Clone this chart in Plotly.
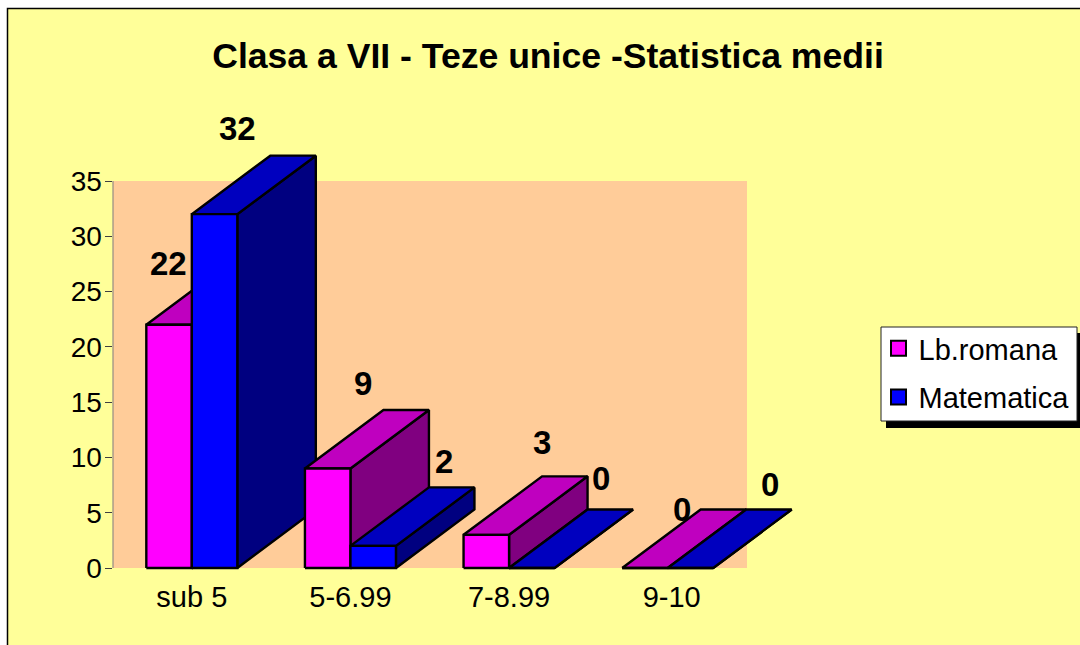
import plotly.graph_objects as go

TITLE = "Clasa a VII - Teze unice -Statistica medii"
categories = ["sub 5", "5-6.99", "7-8.99", "9-10"]
romana = [22, 9, 3, 0]
matematica = [32, 2, 0, 0]
y_ticks = [0, 5, 10, 15, 20, 25, 30, 35]

W, H = 1080, 645
FONT = "Liberation Sans, Arial, sans-serif"
PX_L, PX_R, PX_T, PX_B = 112.5, 747.0, 181.0, 568.0
PX_RIGHT_EXT, PX_TOP_EXT, PX_BOTTOM_EXT = 830.0, 100.0, 575.0
ux = (PX_R - PX_L) / 4
uy = (PX_B - PX_T) / 35
BAR = 45.5 / ux
DX = 78.5 / ux
DY = 58.5 / uy
X_MAX = -0.5 + (PX_RIGHT_EXT - PX_L) / ux
Y_MAX = (PX_B - PX_TOP_EXT) / uy
Y_MIN = (PX_B - PX_BOTTOM_EXT) / uy


def px(v):
    return v / W


def py(v):
    return 1 - v / H


def face(xs, ys, color):
    return go.Scatter(
        x=xs + xs[:1], y=ys + ys[:1], mode="lines", fill="toself", fillcolor=color,
        line=dict(color="black", width=2.4), showlegend=False, hoverinfo="skip",
    )


def box(left, v, front, top, side):
    r = left + BAR
    return [
        face([r, r + DX, r + DX, r], [0, DY, v + DY, v], side),
        face([left, left + DX, r + DX, r], [v, v + DY, v + DY, v], top),
        face([left, r, r, left], [0, 0, v, v], front),
    ]


fig = go.Figure()
for i in range(len(categories)):
    for t in box(i - BAR, romana[i], "#FF00FF", "#BF00BF", "#800080"):
        fig.add_trace(t)
    for t in box(i, matematica[i], "#0000FF", "#0000BF", "#000080"):
        fig.add_trace(t)

# legend entries
fig.add_trace(go.Scatter(x=[None], y=[None], mode="markers", name="Lb.romana", legendgroup="a",
                         marker=dict(symbol="square", size=15, color="#FF00FF", line=dict(color="black", width=2))))
fig.add_trace(go.Scatter(x=[None], y=[None], mode="markers", name="Matematica", legendgroup="b",
                         marker=dict(symbol="square", size=15, color="#0000FF", line=dict(color="black", width=2))))

# data labels: pixel nudges relative to bar centre / value
rom_shift = [(-1, 61), (35, 85), (56, 92), (37, 59)]
mat_shift = [(23, 86), (71, 84), (69, 90), (80, 84)]
for i in range(len(categories)):
    for val, cx, (sx, sy) in ((romana[i], i - BAR / 2, rom_shift[i]), (matematica[i], i + BAR / 2, mat_shift[i])):
        fig.add_annotation(x=cx, y=val, text="<b>" + str(val) + "</b>", showarrow=False, xshift=sx, yshift=sy,
                           font=dict(family=FONT, size=33, color="black"), xanchor="center", yanchor="middle",
                           captureevents=False)

shapes = [
    dict(type="rect", xref="paper", yref="paper", x0=px(7.5), x1=px(1200), y0=py(8.5), y1=py(800),
         fillcolor="#FFFF99", line=dict(color="black", width=1.5), layer="below"),
    dict(type="rect", xref="x", yref="y", x0=-0.5, x1=3.5, y0=0, y1=35,
         fillcolor="#FFCC99", line=dict(width=0), layer="below"),
    dict(type="line", xref="x", yref="y", x0=-0.5, x1=-0.5, y0=0, y1=35,
         line=dict(color="#808080", width=2), layer="below"),
    dict(type="rect", xref="paper", yref="paper", x0=px(886), x1=px(1082), y0=py(333), y1=py(428),
         fillcolor="black", line=dict(width=0), layer="above"),
    dict(type="rect", xref="paper", yref="paper", x0=px(881), x1=px(1077), y0=py(327), y1=py(421),
         fillcolor="white", line=dict(color="#222222", width=1), layer="above"),
]

fig.update_layout(
    width=W, height=H, margin=dict(l=0, r=0, t=0, b=0, autoexpand=False), autosize=False,
    paper_bgcolor="white", plot_bgcolor="rgba(0,0,0,0)",
    font=dict(family=FONT, size=28, color="black"),
    title=dict(text="<b>" + TITLE + "</b>", x=548 / W, xanchor="center", xref="paper",
               y=py(56), yref="paper", yanchor="middle", font=dict(size=35.6, family=FONT, color="black")),
    xaxis=dict(domain=[px(PX_L), px(PX_RIGHT_EXT)], range=[-0.5, X_MAX], tickmode="array",
               tickvals=[0, 1, 2, 3 + 4 / ux], ticktext=categories,
               showgrid=False, zeroline=False, showline=False, ticks="", ticklabelstandoff=2,
               tickfont=dict(size=29, family=FONT)),
    yaxis=dict(domain=[py(PX_BOTTOM_EXT), py(PX_TOP_EXT)], range=[Y_MIN, Y_MAX], tickmode="array", tickvals=y_ticks,
               showgrid=False, zeroline=False, showline=False,
               ticks="outside", ticklen=7, tickcolor="#404040", tickwidth=1, ticklabelstandoff=-3,
               tickfont=dict(size=28, family=FONT)),
    legend=dict(x=px(878.5), y=py(323), xanchor="left", yanchor="top", bgcolor="rgba(0,0,0,0)",
                borderwidth=0, tracegroupgap=8,
                font=dict(size=29, family=FONT), traceorder="grouped"),
    shapes=shapes, showlegend=True,
)

fig.write_html("out.html", post_script="document.body.style.margin='0';", config=dict(displayModeBar=False))
